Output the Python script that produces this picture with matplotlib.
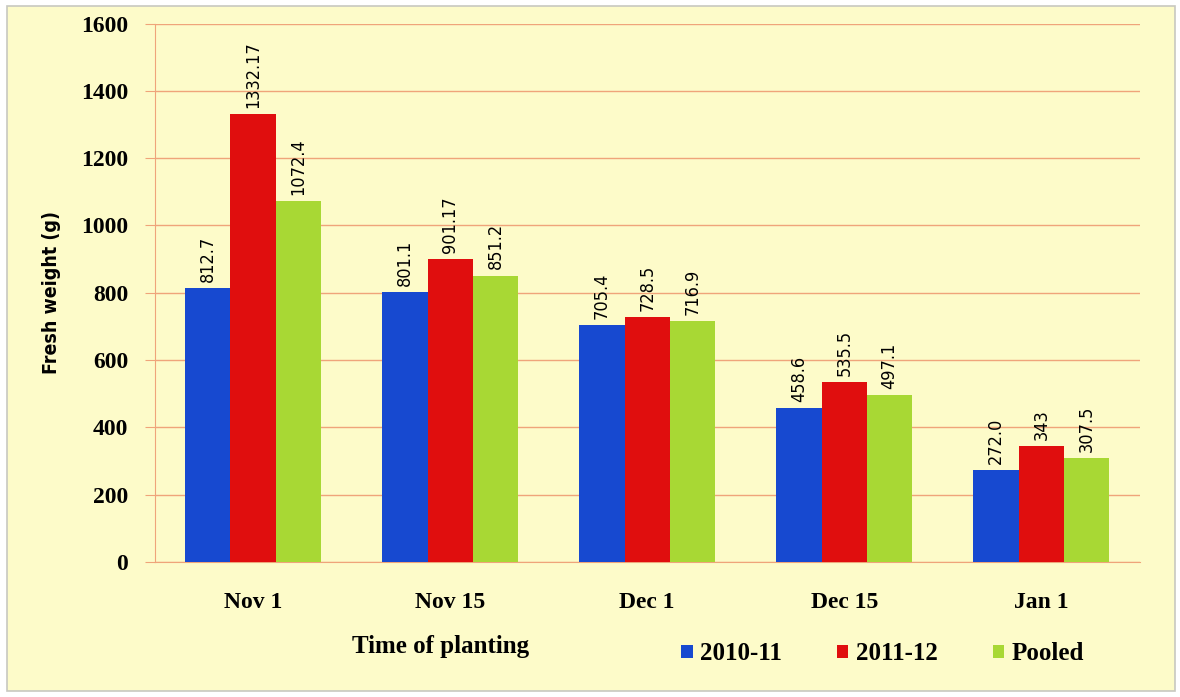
import numpy as np
import matplotlib.pyplot as plt
from matplotlib.patches import Rectangle

plt.rcParams['font.family'] = ['Liberation Serif', 'DejaVu Serif']

# data
categories = ['Nov 1', 'Nov 15', 'Dec 1', 'Dec 15', 'Jan 1']
series_names = ['2010-11', '2011-12', 'Pooled']
s2010 = [812.7, 801.1, 705.4, 458.6, 272.0]
s2011 = [1332.17, 901.17, 728.5, 535.5, 343]
pooled = [1072.4, 851.2, 716.9, 497.1, 307.5]
label_2010 = ['812.7', '801.1', '705.4', '458.6', '272.0']
label_2011 = ['1332.17', '901.17', '728.5', '535.5', '343']
label_pooled = ['1072.4', '851.2', '716.9', '497.1', '307.5']

colors = ['#1749D0', '#E00E0E', '#A8D834']
bg = '#FDFBC9'
grid_c = '#EFA47A'
narrow = dict(family='DejaVu Sans', fontstretch='condensed')

fig = plt.figure(figsize=(11.8, 6.97), dpi=100)
fig.patch.set_facecolor('white')
fig.patches.append(Rectangle((0.006, 0.008), 0.99, 0.984, transform=fig.transFigure,
                             facecolor=bg, edgecolor='#C8C8C0', linewidth=1.2, zorder=-10))

ax = fig.add_axes([0.131, 0.194, 0.835, 0.772])
ax.set_facecolor(bg)

x = np.arange(len(categories))
w = 0.23
all_vals = [s2010, s2011, pooled]
all_labels = [label_2010, label_2011, label_pooled]
for i, (vals, labs) in enumerate(zip(all_vals, all_labels)):
    pos = x + (i - 1) * w
    ax.bar(pos, vals, width=w, color=colors[i], label=series_names[i], zorder=3)
    for px, v, t in zip(pos, vals, labs):
        ax.text(px, v + 18, t, rotation=90, ha='center', va='bottom',
                fontsize=13, color='black', zorder=4, **narrow)

ax.set_xlim(-0.5, len(categories) - 0.5)
ax.set_ylim(0, 1600)
ax.set_yticks(np.arange(0, 1601, 200))
ax.yaxis.grid(True, color=grid_c, linewidth=1.0, zorder=0)
ax.set_axisbelow(True)

for s in ['top', 'right']:
    ax.spines[s].set_visible(False)
ax.spines['left'].set_color(grid_c)
ax.spines['bottom'].set_color(grid_c)

ax.set_xticks(x)
ax.set_xticklabels(categories, fontsize=17, fontweight='bold')
ax.tick_params(axis='x', length=0, pad=22)
ax.tick_params(axis='y', colors=grid_c, length=7, labelsize=17, pad=12)
for lab in ax.get_yticklabels():
    lab.set_color('black')
    lab.set_fontweight('bold')

ax.set_ylabel('Fresh weight (g)', fontsize=14, fontweight='bold', labelpad=14, **narrow)

fig.text(0.373, 0.073, 'Time of planting', fontsize=18, fontweight='bold',
         ha='center', va='center')

leg = fig.legend(loc='center', bbox_to_anchor=(0.748, 0.062), ncol=3, frameon=False,
                 fontsize=18, handlelength=0.45, handleheight=0.45, handletextpad=0.3,
                 columnspacing=2.2)
for t in leg.get_texts():
    t.set_fontweight('bold')

fig.savefig('out.png', dpi=100, facecolor=fig.get_facecolor())
